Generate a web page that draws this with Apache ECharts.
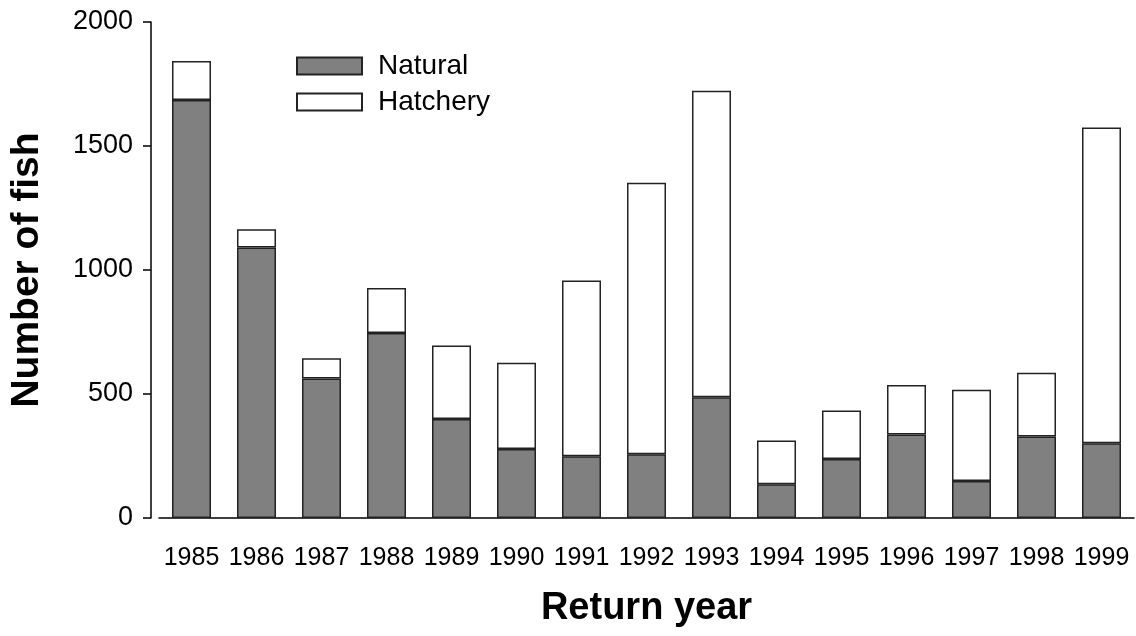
<!DOCTYPE html>
<html>
<head>
<meta charset="utf-8">
<script src="https://cdn.jsdelivr.net/npm/echarts@6/dist/echarts.min.js"></script>
<style>html,body{margin:0;padding:0;background:#fff}#c{width:1136px;height:636px}</style>
</head>
<body>
<div id="c"></div>
<script>
var years = ['1985','1986','1987','1988','1989','1990','1991','1992','1993','1994','1995','1996','1997','1998','1999'];
var natural = [1685,1091,563,746,399,278,249,257,487,136,238,337,149,329,301];
var hatchery = [158,73,81,181,297,348,709,1095,1236,176,195,199,368,257,1274];
var yTicks = [0,500,1000,1500,2000];

var FONT = '"Liberation Sans", Arial, sans-serif';
var chart = echarts.init(document.getElementById('c'), null, {renderer:'canvas'});
chart.setOption({
  animation:false,
  backgroundColor:'#fff',
  textStyle:{fontFamily:FONT},
  grid:{left:159, right:2, top:22, bottom:118, containLabel:false},
  legend:{
    orient:'vertical', left:291, top:47, itemWidth:65, itemHeight:17, itemGap:8,
    selectedMode:false, icon:'rect',
    textStyle:{fontSize:28, color:'#000', fontFamily:FONT, padding:[0,0,0,11]},
    data:['Natural','Hatchery']
  },
  xAxis:{
    type:'category', data:years, boundaryGap:true,
    axisLine:{lineStyle:{color:'#000', width:1.5}},
    axisTick:{alignWithLabel:true, length:8, lineStyle:{color:'#000', width:1.5}},
    axisLabel:{fontSize:25, color:'#000', margin:28, interval:0},
    name:'Return year', nameLocation:'middle', nameGap:72,
    nameTextStyle:{fontSize:38, fontWeight:'bold', color:'#000'}
  },
  yAxis:{
    type:'value', min:yTicks[0], max:yTicks[yTicks.length-1], interval:500, offset:8,
    axisLine:{show:true, lineStyle:{color:'#000', width:1.5}},
    axisTick:{show:true, length:8, lineStyle:{color:'#000', width:1.5}},
    splitLine:{show:false},
    axisLabel:{fontSize:27, color:'#000', margin:18, formatter:function(v){return String(v);}},
    name:'Number of fish', nameLocation:'middle', nameGap:104, nameRotate:90,
    nameTextStyle:{fontSize:39, fontWeight:'bold', color:'#000'}
  },
  series:[
    {name:'Natural', type:'bar', stack:'t', data:natural, barWidth:39,
     itemStyle:{color:'#808080', borderColor:'#222', borderWidth:1.5}},
    {name:'Hatchery', type:'bar', stack:'t', data:hatchery, barWidth:39,
     itemStyle:{color:'#fff', borderColor:'#222', borderWidth:1.5}}
  ]
});
</script>
</body>
</html>
